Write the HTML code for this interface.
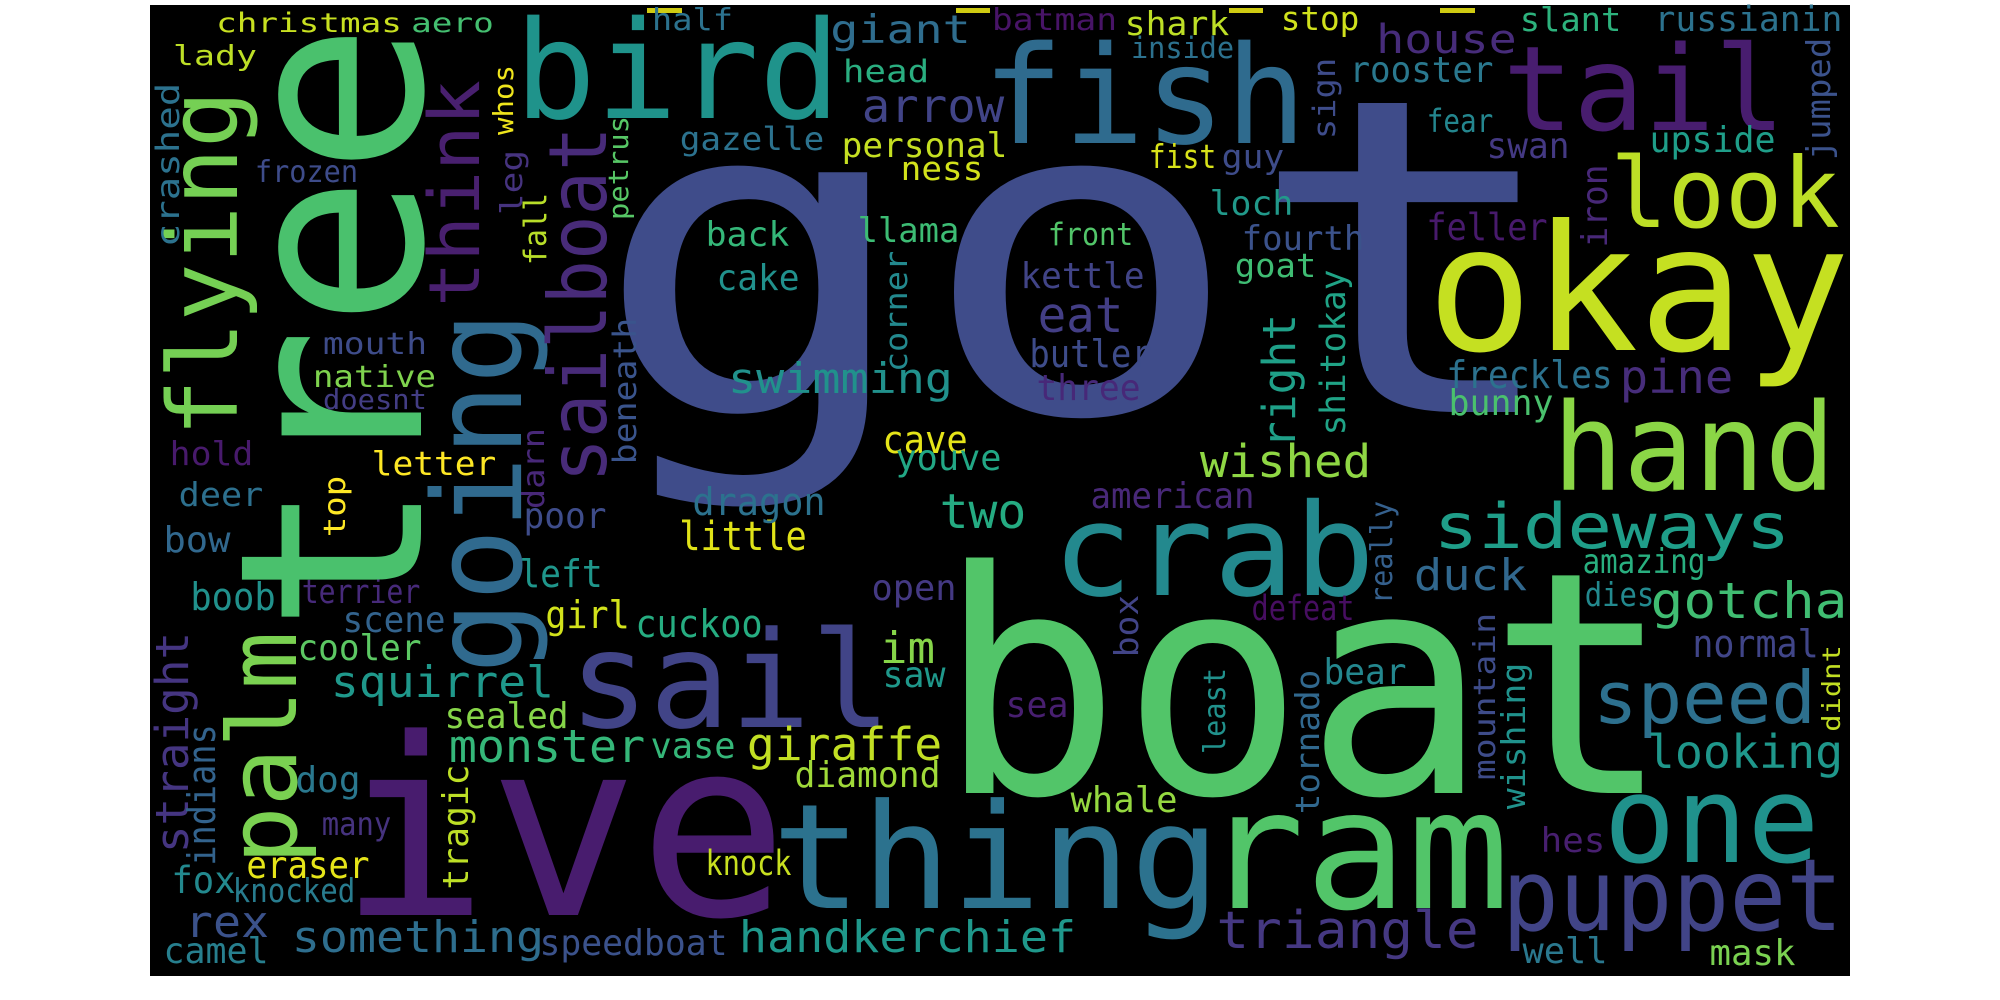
<!DOCTYPE html>
<html><head><meta charset="utf-8"><title>Word Cloud</title>
<style>
html,body{margin:0;padding:0;background:#fff;}
svg{display:block;}
text{font-family:"DejaVu Sans Mono","Liberation Mono",monospace;}
</style></head>
<body>
<svg id="cloud" width="2000" height="1000" viewBox="0 0 2000 1000" xmlns="http://www.w3.org/2000/svg">
<rect x="150" y="5" width="1700" height="971" fill="#000"/>
<g fill="#cfcb12">
<rect x="647" y="8" width="35" height="5"/><rect x="956" y="8" width="34" height="5"/>
<rect x="1229" y="8" width="34" height="5"/><rect x="1440" y="8" width="35" height="5"/>
</g>
<circle cx="638" cy="23" r="5" fill="#2c728e"/>
</svg>
<script>
// horizontal words: text, ink-left, baseline, size, ink-width, color
const hWords = [
["got",622,412,440,918,"#3f4c8a"],["boat",959,793,310,691,"#52c569"],["ive",356,915,247,415,"#481c6e"],
["thing",782,908,146,428,"#2c728e"],["ram",1214,908,166,284,"#52c569"],["bird",524,118,136,307,"#1f938b"],
["fish",992,143,136,305,"#2f6b8e"],["tail",1511,130,118,266,"#481d6f"],["okay",1439,350,175,399,"#c5e021"],
["look",1617,227,97,216,"#bddf26"],["hand",1561,490,121,266,"#8bd646"],["crab",1061,595,128,305,"#23898e"],
["sail",578,727,134,304,"#414487"],["christmas",218,32,27,182,"#c8e020"],["aero",413,32,27,79,"#44bf70"],
["lady",175,65,28,80,"#bddf26"],["frozen",257,182,30,99,"#3e4c8a"],["mouth",325,354,30,100,"#3e4c8a"],
["native",315,387,30,119,"#7fd34e"],["doesnt",325,409,28,100,"#433d84"],["hold",172,465,33,79,"#481a6c"],
["letter",374,475,33,120,"#fde725"],["deer",181,506,33,80,"#2d708e"],["half",654,30,30,77,"#2c728e"],
["giant",833,43,39,135,"#2f6d8e"],["batman",994,30,30,121,"#481467"],["shark",1127,35,33,100,"#bddf26"],
["inside",1133,58,29,99,"#2c718e"],["head",845,82,31,82,"#2aae80"],["arrow",865,122,46,136,"#414487"],
["gazelle",682,150,32,140,"#2c728e"],["personal",844,157,34,161,"#c5df22"],["ness",903,180,33,78,"#d2e21b"],
["fist",1151,168,33,63,"#d8e219"],["guy",1224,168,33,58,"#3e4c8a"],["loch",1212,215,34,79,"#21998a"],
["fourth",1244,250,34,118,"#3b528b"],["goat",1237,277,33,77,"#3fbc73"],["back",708,246,34,79,"#35b779"],
["llama",860,242,34,97,"#3dbc74"],["front",1050,245,31,81,"#52c569"],["cake",719,290,36,78,"#21918c"],
["kettle",1023,288,36,119,"#414487"],["eat",1041,332,49,79,"#433e85"],["butler",1032,367,38,117,"#3e4c8a"],
["swimming",731,393,42,219,"#21918c"],["three",1039,400,36,99,"#472878"],["cave",885,453,38,80,"#e5e419"],
["youve",898,470,36,101,"#22a785"],["wished",1203,477,45,165,"#8fd744"],["american",1093,508,36,159,"#482878"],
["stop",1283,30,33,74,"#d0e11c"],["house",1379,53,40,135,"#472c7a"],["slant",1522,31,33,97,"#2db27d"],
["russianin",1657,31,35,183,"#2c728e"],["rooster",1352,82,36,139,"#2a788e"],["fear",1429,132,32,62,"#24868e"],
["upside",1652,152,36,121,"#1f9e89"],["swan",1489,158,36,78,"#443983"],["feller",1429,240,37,116,"#481a6c"],
["freckles",1449,388,38,161,"#2c728e"],["pine",1623,393,46,107,"#472d7b"],["bunny",1451,415,36,100,"#4ac16d"],
["bow",166,552,36,62,"#31688e"],["poor",526,528,36,78,"#3e4c8a"],["left",522,587,38,78,"#1f968b"],
["little",682,550,40,122,"#e0e318"],["dragon",695,515,38,128,"#2c728e"],["two",943,528,48,80,"#25ab82"],
["boob",193,610,38,80,"#21918c"],["terrier",304,603,33,114,"#472a7a"],["scene",345,632,36,98,"#33638d"],
["girl",548,628,38,79,"#d2e21b"],["cuckoo",638,637,38,122,"#26ad81"],["cooler",300,660,36,119,"#5cc863"],
["squirrel",334,697,44,217,"#1f988b"],["sealed",447,728,36,119,"#86d549"],["monster",452,762,45,190,"#35b779"],
["vase",653,758,36,80,"#35b779"],["giraffe",750,760,45,189,"#c2df23"],["diamond",797,787,36,141,"#a0da39"],
["dog",298,792,36,60,"#2a788e"],["many",324,835,32,65,"#46337f"],["eraser",249,878,37,118,"#e5e419"],
["fox",174,893,37,59,"#23898e"],["knocked",235,902,33,118,"#287c8e"],["rex",188,937,44,78,"#3b528b"],
["something",295,952,44,246,"#2e6e8e"],["camel",166,963,36,100,"#277f8e"],["speedboat",542,955,36,183,"#3b528b"],
["knock",708,875,35,81,"#c8e020"],["open",874,600,36,80,"#443983"],["im",883,663,44,49,"#86d549"],
["saw",885,687,36,58,"#1f988b"],["defeat",1254,620,35,98,"#470e61"],["sea",1008,717,36,58,"#481f70"],
["whale",1073,812,36,102,"#95d840"],["handkerchief",742,952,44,331,"#1f988b"],["triangle",1220,948,52,255,"#453882"],
["sideways",1438,548,62,348,"#1f9e89"],["duck",1417,590,44,107,"#31688e"],["amazing",1585,573,34,118,"#29af7f"],
["dies",1587,606,33,65,"#23898e"],["gotcha",1654,618,50,190,"#40bd72"],["normal",1695,657,38,121,"#404588"],
["bear",1326,684,36,78,"#24878e"],["speed",1598,723,72,213,"#2d708e"],["looking",1650,768,46,190,"#1f978b"],
["one",1612,862,120,199,"#20928c"],["hes",1543,852,34,60,"#481f70"],["puppet",1509,930,100,327,"#414487"],
["well",1525,963,36,80,"#2a788e"],["mask",1712,965,36,81,"#7ad151"]
];
// vertical words (read bottom to top): text, baseline-x, bottom-y, size, ink-length, color
const vWords = [
["tree",421,615,255,575,"#4ac16d"],["going",521,665,123,345,"#306a8e"],["sailboat",606,477,80,345,"#482b79"],
["think",479,302,70,217,"#49206f"],["flying",237,430,96,333,"#75d054"],["palm",296,858,95,220,"#7ad151"],
["straight",188,850,45,215,"#453581"],["indians",215,863,38,136,"#33638d"],["crashed",179,245,32,160,"#2c728e"],
["whos",513,133,28,66,"#efe51c"],["leg",522,213,30,61,"#46337f"],["fall",546,263,31,68,"#b8de29"],
["petrus",628,218,28,100,"#57c766"],["darn",544,507,30,77,"#482878"],["beneath",636,462,32,142,"#3a548c"],
["top",345,535,30,57,"#fde725"],["corner",907,370,31,117,"#23898e"],["right",1295,445,45,128,"#1fa088"],
["sign",1335,137,31,77,"#3e4c8a"],["jumped",1830,158,33,118,"#3b528b"],["iron",1607,245,36,78,"#482878"],
["shitokay",1345,433,35,161,"#20a386"],["tragic",468,887,36,120,"#bddf26"],["box",1138,655,33,58,"#414487"],
["least",1225,752,30,82,"#21918c"],["really",1392,602,30,99,"#35608d"],["tornado",1319,812,33,140,"#31688e"],
["mountain",1495,778,30,163,"#3e4c8a"],["wishing",1525,807,33,142,"#20928c"],["didnt",1840,730,25,83,"#c2df23"]
];
const NS = "http://www.w3.org/2000/svg";
const svg = document.getElementById("cloud");
function makeText(w, s, c, len) {
  const t = document.createElementNS(NS, "text");
  t.textContent = w;
  t.setAttribute("font-size", s);
  t.setAttribute("fill", c);
  t.setAttribute("textLength", len);
  t.setAttribute("lengthAdjust", "spacingAndGlyphs");
  
  
  return t;
}
hWords.forEach(function (d) {
  const pad = 0.07 * d[3];
  const t = makeText(d[0], d[3], d[5], d[4] + 2 * pad);
  t.setAttribute("x", d[1] - pad);
  t.setAttribute("y", d[2]);
  svg.appendChild(t);
});
vWords.forEach(function (d) {
  const pad = 0.07 * d[3];
  const t = makeText(d[0], d[3], d[5], d[4] + 2 * pad);
  t.setAttribute("transform", "translate(" + d[1] + "," + (d[2] + pad) + ") rotate(-90)");
  t.setAttribute("x", 0);
  t.setAttribute("y", 0);
  svg.appendChild(t);
});
</script>
</body></html>
